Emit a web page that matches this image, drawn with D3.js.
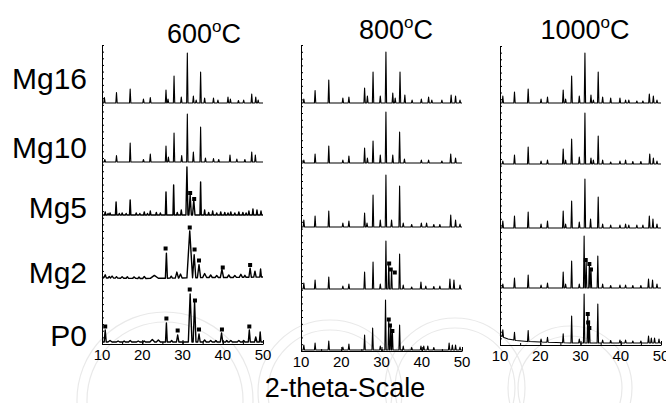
<!DOCTYPE html>
<html>
<head>
<meta charset="utf-8">
<title>XRD patterns</title>
<script src="https://cdn.jsdelivr.net/npm/d3@7/dist/d3.min.js"></script>
<style>
  body { margin: 0; background: #fff; }
  text { font-family: "Liberation Sans", Arial, Helvetica, sans-serif; fill: #000; }
</style>
</head>
<body>
<svg id="chart" width="666" height="403"></svg>
<script>
// temperatures (panel titles) and samples (rows)
var temps = ["600", "800", "1000"];
var samples = ["Mg16", "Mg10", "Mg5", "Mg2", "P0"];
var thetaTicks = [10, 20, 30, 40, 50];
var xTitle = "2-theta-Scale";

// peaks: [2theta, intensity, half width (optional)]
var peaks600 = {
  Mg16: [[10.6,11],[13.6,21],[17.0,28],[20.3,8],[22.0,11],[25.9,26],[26.4,8],[27.9,54],[29.7,12],[31.2,100],[32.7,14],[33.4,6],[34.5,62],[35.5,10],[37.7,10],[38.8,6],[41.3,12],[41.9,8],[43.9,5],[45.2,6],[47.2,18],[48.2,12],[48.8,6]],
  Mg10: [[10.7,5],[13.6,13],[17.0,38],[20.3,5],[22.0,16],[25.9,32],[26.5,10],[27.9,58],[29.8,13],[31.2,96],[32.7,20],[34.5,70],[35.7,8],[37.7,7],[39.0,5],[41.8,14],[43.5,6],[45.5,5],[47.2,20],[48.1,14]],
  Mg5: [[10.8,6],[11.5,3],[12,4],[13.5,26],[14.3,3],[15,4],[16,3],[17.0,30],[18.5,4],[19.4,3],[20.5,6],[21.3,3],[22.0,8],[23.5,5],[24.5,4],[25.9,46],[27.8,60],[28.7,5],[29.7,10],[31.1,96,0.25],[31.9,40,0.3],[32.8,30,0.3],[34.5,66],[35.5,10],[36.5,5],[37.5,8],[38.5,4],[39.5,6],[40.5,5],[41.3,4],[42,6],[43,4],[44,6],[45,5],[45.8,4],[46.5,8],[47.5,12],[48.5,10],[49.5,8]],
  Mg2: [[10.8,6,0.3],[11.8,3,0.3],[12.5,4,0.4],[13.6,3,0.3],[15,3,0.4],[16.3,3,0.3],[18,3,0.4],[19.2,3,0.3],[20.5,4,0.4],[23,6,1.0],[26.0,50,0.25],[27.2,4,0.3],[28.6,12,0.4],[29.5,8,0.4],[31.8,94,0.7],[32.9,46,0.4],[34.1,26,0.4],[35.5,8,0.5],[37,5,0.4],[38.5,4,0.4],[39.8,16,0.4],[41.5,5,0.4],[43,4,0.4],[44.5,6,0.4],[45.5,4,0.3],[46.8,18,0.3],[48.0,12,0.3],[49.4,16,0.2]],
  P0: [[10.8,24,0.25],[12,3,0.5],[14,2,0.4],[15.5,2,0.3],[17,3,0.4],[19,2,0.4],[20.5,2,0.3],[22.5,5,0.6],[24,4,0.5],[26.0,38,0.22],[27.3,3,0.3],[28.8,14,0.3],[31.9,96,0.45],[33.0,80,0.35],[34.1,16,0.3],[35.5,4,0.4],[37,3,0.4],[38.3,3,0.3],[39.7,18,0.3],[41,3,0.3],[42,3,0.4],[44,3,0.4],[45.2,3,0.3],[46.6,24,0.25],[48.2,10,0.3],[49.3,20,0.2]]
};
var peaks800 = {
  Mg16: [[10.7,8],[13.5,25],[16.9,46],[20.4,10],[21.9,12],[25.8,30],[26.5,14],[27.9,62],[29.7,14],[31.1,102],[32.8,20],[33.4,10],[34.6,62],[35.8,16],[37.6,6],[39.9,8],[41.7,12],[42.5,6],[45.0,6],[47.3,16],[48.4,14],[49.5,6]],
  Mg10: [[10.7,6],[13.5,18],[16.9,34],[20.4,6],[21.9,14],[25.8,30],[26.5,10],[27.9,44],[29.7,16],[31.1,102],[32.8,16],[34.5,62],[35.7,8],[39.9,6],[41.7,6],[45,4],[47.2,18],[48.4,10]],
  Mg5: [[10.7,14],[13.5,22],[16.9,32],[20.4,8],[21.9,12],[25.8,28],[26.4,8],[27.9,64],[29.7,14],[31.1,104],[32.5,14],[34.5,82],[35.4,8],[37.5,5],[39.9,8],[41.2,8],[43,5],[44.5,5],[47.2,24],[48.4,14],[49.5,6]],
  Mg2: [[10.7,12],[13.5,18],[16.9,24],[20.4,6],[21.9,10],[25.8,34],[27.9,54],[29.7,10],[31.1,96],[31.8,52],[32.5,40],[34.5,70],[35.4,8],[37.5,4],[39.8,14],[41,6],[43,5],[44.5,6],[47.0,20],[48.0,18],[49.5,8]],
  P0: [[10.7,10],[13.5,14],[16.9,18],[20.4,6],[21.9,12],[25.8,30],[27.8,44],[29.7,8],[31.0,100],[31.8,60],[32.3,50],[32.7,40],[34.5,50],[35.4,8],[37.5,5],[39.8,8],[40.5,8],[41.5,8],[43,5],[46.8,14],[47.6,10],[48.4,10],[49.5,6]]
};
var peaks1000 = {
  Mg16: [[10.7,14],[13.6,22],[17.0,28],[20.2,8],[21.8,12],[25.7,26],[26.3,8],[27.8,54],[29.7,14],[31.1,100],[32.6,16],[33.2,6],[34.4,62],[35.5,12],[37.5,10],[39.8,10],[41.2,6],[42,6],[44,4],[45.5,4],[47.1,18],[48.1,14],[49,6]],
  Mg10: [[10.7,6],[13.6,18],[17.0,34],[20.2,6],[21.8,8],[25.7,30],[26.3,8],[27.8,50],[29.7,14],[31.1,102],[32.6,12],[33.2,8],[34.4,56],[35.5,8],[37.5,4],[39.8,6],[41.2,8],[43,5],[45,5],[47.2,20],[48.1,12],[49,6]],
  Mg5: [[10.7,14],[13.6,24],[17.0,32],[20.2,8],[21.8,14],[25.7,34],[26.3,8],[27.8,54],[29.7,12],[31.1,98],[32.5,18],[34.4,62],[35.5,8],[37.5,6],[39.8,6],[41.2,8],[42,6],[44,6],[45.5,6],[47.1,24],[48.0,18],[49,8]],
  Mg2: [[10.7,8],[13.6,20],[17.0,26],[20.2,6],[21.8,10],[25.7,32],[26.3,8],[27.8,54],[29.7,8],[30.9,104],[31.4,56],[32.2,50],[32.6,40],[34.3,64],[35.5,8],[37.5,5],[39.8,6],[41.2,6],[43,5],[45,5],[46.9,18],[47.9,16],[49,8]],
  P0: [[10.7,14],[13.6,16],[17.0,22],[20.2,6],[21.8,10],[25.7,18],[27.8,54],[29.7,8],[30.9,98],[31.8,60],[32.2,44],[34.3,78],[35.5,6],[37.5,5],[39.8,6],[41.2,6],[43,4],[45,4],[46.9,14],[47.6,10],[48.4,10],[49.5,8]]
};

// background (baseline) knots [2theta, intensity], only where it is not flat
var baseline1000P0 = [[10,15],[11,11],[12,8],[14,5],[17,3],[20,2],[24,1],[28,0],[50,0]];
var baseline600Mg2 = [[10,4],[11,2],[20,1],[30,2],[36,3],[42,3],[50,4]];

// square markers [2theta, intensity]
var marks = {
  "600-Mg5": [[31.9,44],[32.9,32]],
  "600-Mg2": [[25.8,61],[31.8,103],[33.0,59],[34.1,37],[40.0,23],[46.8,28]],
  "600-P0": [[10.8,31],[26.0,47],[28.8,23],[31.8,105],[33.1,83],[34.1,25],[39.8,25],[46.6,31]],
  "800-Mg2": [[31.9,51],[32.3,39],[33.3,33]],
  "800-P0": [[31.8,61],[32.1,49],[32.7,38]],
  "1000-Mg2": [[31.3,56],[32.2,48],[32.6,37]],
  "1000-P0": [[31.8,58],[31.9,41],[32.2,30]]
};

var allPeaks = { "600": peaks600, "800": peaks800, "1000": peaks1000 };
var baselines = { "1000-P0": baseline1000P0, "600-Mg2": baseline600Mg2 };

// layout
var panels = [
  { x0: 102, x1: 263, top: 45, bottom: 344, title: [204, 43], rows: [103, 162, 215, 279, 342] },
  { x0: 301, x1: 462, top: 45, bottom: 351, title: [396, 39], rows: [103, 163, 227, 289, 350] },
  { x0: 500, x1: 661, top: 46, bottom: 345, title: [585, 39], rows: [103, 164, 228, 288, 343] }
];
var labelY = [89, 158, 218, 283, 346];
var pxPerUnit = 0.5;
var defaultHW = 0.17;

var svg = d3.select("#chart");

// faint watermark outlines behind the chart
var wm = svg.append("g").attr("fill", "none").attr("stroke", "#e9e9e9").attr("stroke-width", 1.2);
[[165, 400, 88], [165, 400, 78], [330, 392, 72], [330, 392, 62], [455, 388, 70], [455, 388, 60], [570, 388, 62], [570, 388, 52]]
  .forEach(function(c) { wm.append("circle").attr("cx", c[0]).attr("cy", c[1]).attr("r", c[2]); });

// row labels
svg.selectAll("text.row").data(samples).enter().append("text")
  .attr("class", "row")
  .attr("x", 87)
  .attr("y", function(d, i) { return labelY[i]; })
  .attr("text-anchor", "end")
  .style("font-size", "30px")
  .text(function(d) { return d; });

function profile(pk, base) {
  var bx = base ? base.map(function(b) { return b[0]; }) : [10, 50];
  var by = base ? base.map(function(b) { return b[1]; }) : [0, 0];
  var bg = d3.scaleLinear().domain(bx).range(by).clamp(true);
  var xs = [10, 50].concat(bx);
  pk.forEach(function(p) {
    var w = p[2] || defaultHW;
    xs.push(p[0] - w, p[0], p[0] + w);
  });
  xs = Array.from(new Set(xs.filter(function(x) { return x >= 10 && x <= 50; }))).sort(d3.ascending);
  return xs.map(function(x) {
    var y = bg(x);
    pk.forEach(function(p) {
      var w = p[2] || defaultHW;
      var t = 1 - Math.abs(x - p[0]) / w;
      if (t > 0) y += p[1] * t;
    });
    return [x, y];
  });
}

temps.forEach(function(t, pi) {
  var P = panels[pi];
  var g = svg.append("g");
  var x = d3.scaleLinear().domain([10, 50]).range([P.x0, P.x1]);

  // title with superscript degree
  var tt = g.append("text")
    .attr("x", P.title[0]).attr("y", P.title[1])
    .attr("text-anchor", "middle")
    .style("font-size", "27px");
  tt.append("tspan").text(t);
  tt.append("tspan").attr("dy", -11).style("font-size", "17px").text("o");
  tt.append("tspan").attr("dy", 11).text("C");

  // left axis with small ticks
  var yAx = d3.scaleLinear().domain([0, 45]).range([P.bottom, P.top]);
  g.append("g")
    .attr("transform", "translate(" + P.x0 + ",0)")
    .call(d3.axisRight(yAx).ticks(45).tickSize(2).tickFormat(""))
    .call(function(a) { a.select(".domain").attr("stroke-width", 1); });

  // bottom axis
  var xAxis = g.append("g").attr("transform", "translate(0," + P.bottom + ")");
  xAxis.call(d3.axisTop(x).tickValues(d3.range(10, 51, 5)).tickSize(2).tickFormat("").tickSizeOuter(0));
  xAxis.append("g").call(d3.axisTop(x).tickValues(thetaTicks).tickSize(4).tickFormat("").tickSizeOuter(0))
    .select(".domain").remove();
  g.selectAll("text.tick-l").data(thetaTicks).enter().append("text")
    .attr("class", "tick-l")
    .attr("x", function(d) { return x(d); })
    .attr("y", P.bottom + 16)
    .attr("text-anchor", "middle")
    .style("font-size", "15px")
    .text(function(d) { return d; });

  samples.forEach(function(s, ri) {
    var key = t + "-" + s;
    var base = P.rows[ri];
    var y = d3.scaleLinear().domain([0, 100]).range([base, base - 100 * pxPerUnit]);
    var pts = profile(allPeaks[t][s], baselines[key]);
    var line = d3.line().x(function(d) { return x(d[0]); }).y(function(d) { return y(d[1]); });
    g.append("path")
      .attr("d", line(pts))
      .attr("fill", "none")
      .attr("stroke", "#000")
      .attr("stroke-width", t === "600" && ri >= 2 ? 1.4 : 1.1)
      .attr("stroke-linejoin", "round");
    var m = marks[key] || [];
    g.selectAll(null).data(m).enter().append("rect")
      .attr("x", function(d) { return x(d[0]) - 2; })
      .attr("y", function(d) { return y(d[1]) - 2; })
      .attr("width", 4).attr("height", 4)
      .attr("fill", "#000");
  });
});

svg.append("text")
  .attr("x", 345).attr("y", 397)
  .attr("text-anchor", "middle")
  .style("font-size", "27px")
  .text(xTitle);
</script>
</body>
</html>
